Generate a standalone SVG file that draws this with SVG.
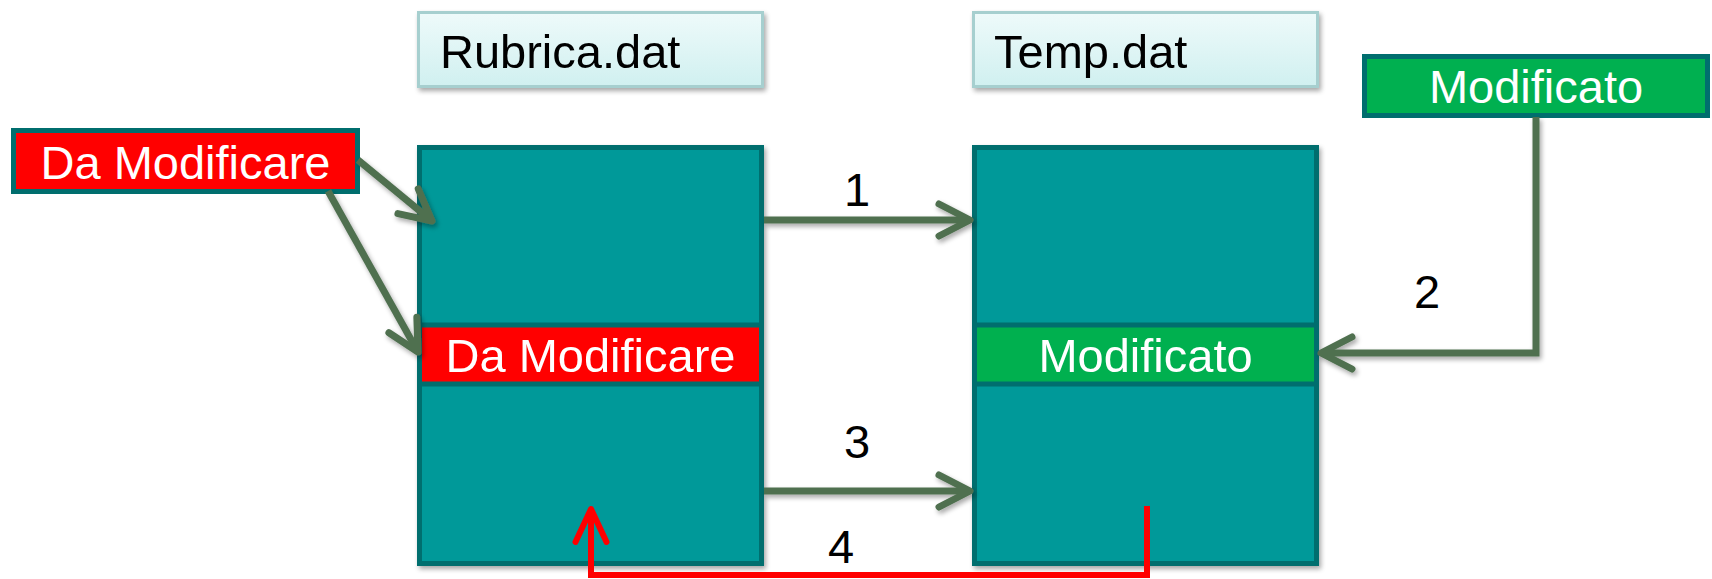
<svg xmlns="http://www.w3.org/2000/svg" width="1712" height="579" viewBox="0 0 1712 579">
<style>
  text { font-family: "Liberation Sans", Arial, sans-serif; font-size: 47px; }
  .lbl { fill: #000000; }
  .wt { fill: #ffffff; text-anchor: middle; }
  .num { fill: #000000; text-anchor: middle; }
  .teal { fill: #009999; stroke: #006E6E; stroke-width: 5; }
  .red { fill: #FF0000; stroke: #006E6E; stroke-width: 5; }
  .green { fill: #00B050; stroke: #006E6E; stroke-width: 5; }
  .file { fill: url(#fileGrad); stroke: #A6CFCF; stroke-width: 3; }
  .conn { fill: none; stroke: #507050; stroke-width: 7; stroke-linecap: butt; stroke-linejoin: miter; }
  .connRed { fill: none; stroke: #FF0000; stroke-width: 6; stroke-linejoin: miter; }
</style>
<defs>
  <linearGradient id="fileGrad" x1="0" y1="0" x2="0" y2="1">
    <stop offset="0" stop-color="#EEFAFA"/>
    <stop offset="1" stop-color="#D0F0F0"/>
  </linearGradient>
  <filter id="shadow" x="-10%" y="-10%" width="125%" height="130%">
    <feGaussianBlur in="SourceAlpha" stdDeviation="2.5"/>
    <feOffset dx="2" dy="3" result="b"/>
    <feComponentTransfer><feFuncA type="linear" slope="0.35"/></feComponentTransfer>
    <feMerge><feMergeNode/><feMergeNode in="SourceGraphic"/></feMerge>
  </filter>
  <marker id="chev" markerUnits="userSpaceOnUse" markerWidth="60" markerHeight="60" viewBox="-40 -30 50 60" refX="0" refY="0" orient="auto" overflow="visible">
    <path d="M -31,-16 L 0,0 L -31,16" fill="none" stroke="#507050" stroke-width="7" stroke-linecap="round" stroke-linejoin="round"/>
  </marker>
  <marker id="chevRed" markerUnits="userSpaceOnUse" markerWidth="60" markerHeight="60" viewBox="-40 -30 50 60" refX="0" refY="0" orient="auto" overflow="visible">
    <path d="M -33,-15.5 L 0,0 L -33,15.5" fill="none" stroke="#FF0000" stroke-width="6" stroke-linecap="round" stroke-linejoin="round"/>
  </marker>
</defs>

<g id="rubrica-label" filter="url(#shadow)">
  <rect class="file" x="418.5" y="12.5" width="344" height="74"/>
  <text class="lbl" x="440" y="68">Rubrica.dat</text>
</g>
<g id="temp-label" filter="url(#shadow)">
  <rect class="file" x="973.5" y="12.5" width="344" height="74"/>
  <text class="lbl" x="994" y="68">Temp.dat</text>
</g>

<g id="rubrica-file" filter="url(#shadow)">
  <rect class="teal" x="419.5" y="147.5" width="342" height="416"/>
  <rect class="red" x="419.5" y="325" width="342" height="59"/>
  <text class="wt" x="590.5" y="372">Da Modificare</text>
</g>
<g id="temp-file" filter="url(#shadow)">
  <rect class="teal" x="974.5" y="147.5" width="342" height="416"/>
  <rect class="green" x="974.5" y="325" width="342" height="59"/>
  <text class="wt" x="1145.5" y="372">Modificato</text>
</g>

<g id="da-modificare-input">
  <rect class="red" x="13.5" y="130.5" width="344" height="61"/>
  <text class="wt" x="185.5" y="179">Da Modificare</text>
</g>
<g id="modificato-input">
  <rect class="green" x="1364.5" y="56.5" width="343" height="59"/>
  <text class="wt" x="1536" y="103">Modificato</text>
</g>

<g id="connectors">
  <g filter="url(#shadow)">
    <line class="conn" x1="358" y1="160" x2="432" y2="221" marker-end="url(#chev)"/>
    <line class="conn" x1="328" y1="191" x2="418" y2="352" marker-end="url(#chev)"/>
    <line class="conn" x1="764" y1="220" x2="970" y2="220" marker-end="url(#chev)"/>
    <path class="conn" d="M1536,117 L1536,353 L1321,353" marker-end="url(#chev)"/>
    <line class="conn" x1="764" y1="491" x2="970" y2="491" marker-end="url(#chev)"/>
  </g>
  <path class="connRed" d="M1147,506 L1147,575 L591,575 L591,509" marker-end="url(#chevRed)"/>
  <text class="num" x="857" y="206">1</text>
  <text class="num" x="1427" y="308">2</text>
  <text class="num" x="857" y="458">3</text>
  <text class="num" x="841" y="563">4</text>
</g>
</svg>
